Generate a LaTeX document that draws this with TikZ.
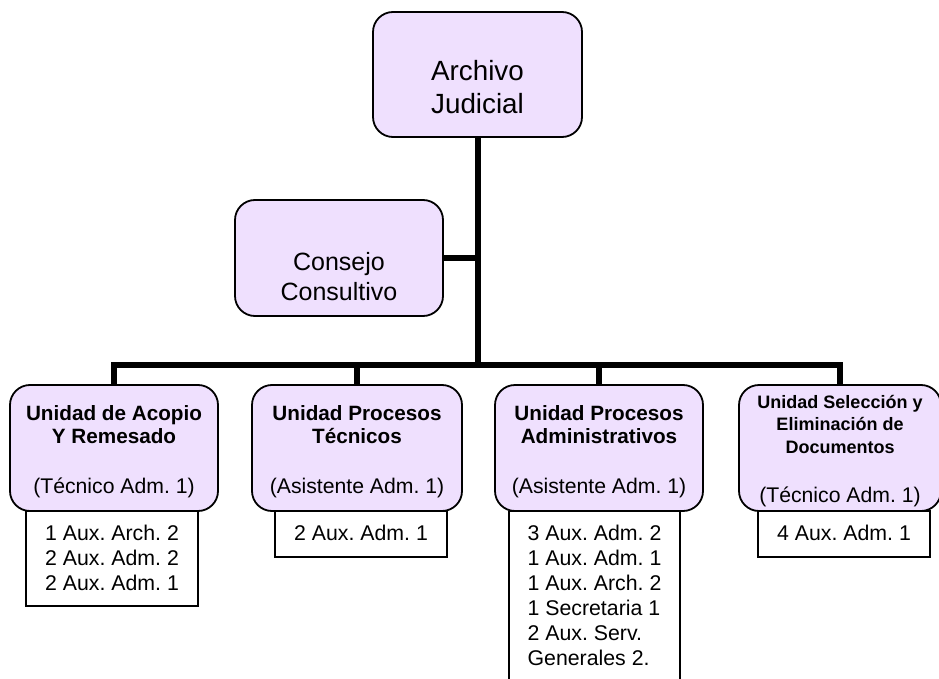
\documentclass[tikz,border=0pt]{standalone}
\usepackage{fontspec}
\setmainfont{Liberation Sans}
\definecolor{boxfill}{RGB}{239,224,254}
\newcommand\parenfont{\mdseries\fontsize{21.2}{23}\selectfont}
\frenchspacing
\begin{document}
\begin{tikzpicture}[x=1pt,y=-1pt,
  unit/.style={draw=black, line width=1.8pt, fill=boxfill, rounded corners=20pt, align=center, inner sep=0pt, text=black},
  staff/.style={draw=black, line width=1.3pt, fill=white, inner sep=0pt, font=\fontsize{21.3}{25}\selectfont, text=black},
  conn/.style={line width=6pt, draw=black},
  head/.style={font=\fontsize{20.7}{23}\selectfont\bfseries}]
\useasboundingbox (0,0) rectangle (939,679);

% staff boxes (behind)
\node[staff, align=center, minimum width=172pt, minimum height=95pt, text height=63pt, text depth=0pt] (s1) at (112,558.5)
  {1 Aux. Arch. 2\\2 Aux. Adm. 2\\2 Aux. Adm. 1};
\node[staff, align=center, minimum width=172pt, minimum height=46pt, text height=12pt, text depth=0pt] (s2) at (361,534)
  {2 Aux. Adm. 1};
\node[staff, align=left, minimum width=171pt, anchor=north, text height=154pt, text depth=40pt] (s3) at (594.5,511)
  {3 Aux. Adm. 2\\1 Aux. Adm. 1\\1 Aux. Arch. 2\\1 Secretaria 1\\2 Aux. Serv.\\Generales 2.};
\node[staff, align=center, minimum width=172pt, minimum height=46pt, text height=12pt, text depth=0pt] (s4) at (844,534)
  {4 Aux. Adm. 1};

% main boxes
\node[unit, minimum width=209pt, minimum height=125pt, font=\fontsize{27.8}{33}\selectfont, text height=79pt, text depth=0pt] (top) at (477.5,74.5)
  {Archivo\\Judicial};
\node[unit, minimum width=208pt, minimum height=116pt, font=\fontsize{25}{29.5}\selectfont, text height=84pt, text depth=0pt] (cons) at (339,258)
  {Consejo\\Consultivo};

\node[unit, head, minimum width=208pt, minimum height=126pt, text height=90pt, text depth=0pt] (u1) at (114,448)
  {Unidad de Acopio\\Y Remesado\\[27pt]{\parenfont (Técnico Adm. 1)}};
\node[unit, head, minimum width=210pt, minimum height=126pt, text height=90pt, text depth=0pt] (u2) at (357,448)
  {Unidad Procesos\\Técnicos\\[27pt]{\parenfont (Asistente Adm. 1)}};
\node[unit, head, minimum width=208pt, minimum height=126pt, text height=90pt, text depth=0pt] (u3) at (599,448)
  {Unidad Procesos\\Administrativos\\[27pt]{\parenfont (Asistente Adm. 1)}};
\node[unit, font=\fontsize{18}{22.5}\selectfont\bfseries, minimum width=202pt, minimum height=126pt, text height=108pt, text depth=0pt] (u4) at (840,448)
  {Unidad Selección y\\Eliminación de\\Documentos\\[26.5pt]{\parenfont (Técnico Adm. 1)}};

% connectors
\coordinate (bus) at (477.5,365);
\draw[conn] (top.south) -- (bus);
\draw[conn] (cons.east) -- (cons.east -| bus);
\draw[conn] (u1.north) |- (bus) -| (u4.north);
\draw[conn] (u2.north) -- (u2.north |- bus);
\draw[conn] (u3.north) -- (u3.north |- bus);
\end{tikzpicture}
\end{document}
